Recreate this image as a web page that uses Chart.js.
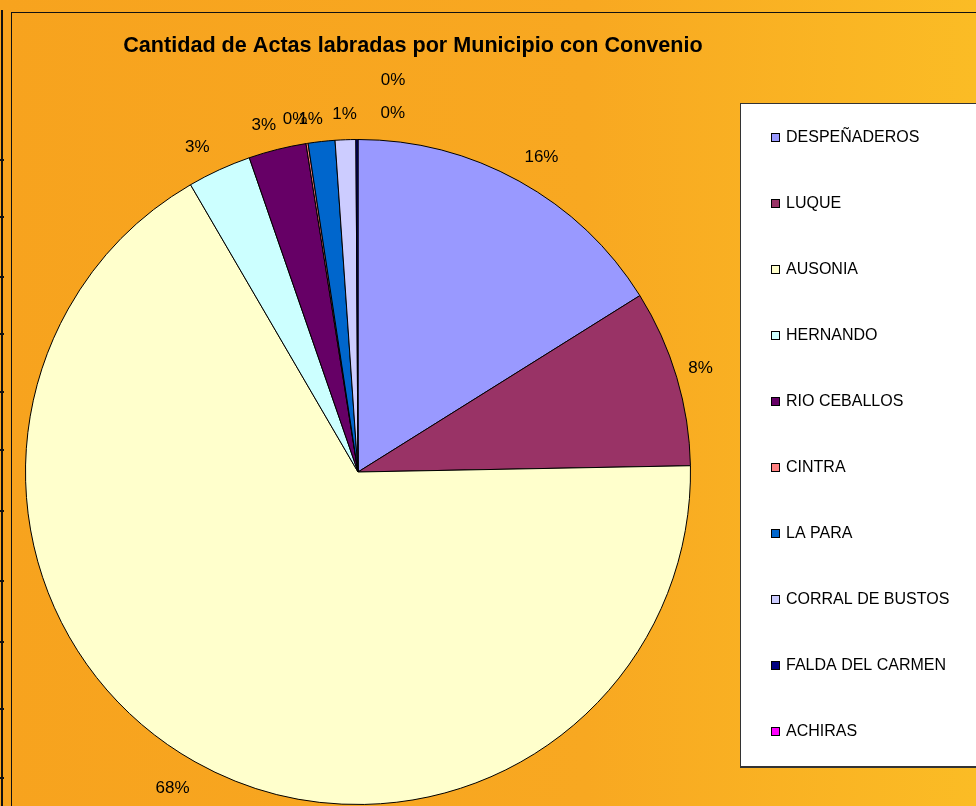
<!DOCTYPE html>
<html>
<head>
<meta charset="utf-8">
<script src="https://cdn.jsdelivr.net/npm/chart.js@4"></script>
<style>
  html, body { margin: 0; padding: 0; background: #F7A31E; overflow: hidden; }
  canvas { display: block; }
</style>
</head>
<body>
<canvas id="pie-chart" width="976" height="806"></canvas>
<script>
const chartTitle = 'Cantidad de Actas labradas por Municipio con Convenio';
const municipios = ['DESPEÑADEROS', 'LUQUE', 'AUSONIA', 'HERNANDO', 'RIO CEBALLOS',
    'CINTRA', 'LA PARA', 'CORRAL DE BUSTOS', 'FALDA DEL CARMEN', 'ACHIRAS'];
const actas = [161, 86, 669, 31, 28, 1, 13, 10, 1, 0];
// percentages as printed on the original chart
const pctLabels = ['16%', '8%', '68%', '3%', '3%', '0%', '1%', '1%', '0%', '0%'];
const sliceColors = ['#9999FF', '#993366', '#FFFFCC', '#CCFFFF', '#660066',
    '#FF8080', '#0066CC', '#CCCCFF', '#000080', '#FF00FF'];

// spreadsheet row lines seen at the left edge
const rowLines = [159, 216, 276, 333, 391, 449, 510, 580, 641, 708, 777];
// Excel shifted some labels so they do not overlap
const labelNudge = {
    0: [7, 4], 1: [-5, 0], 2: [-7, -1], 3: [-10, 4], 4: [-7, 2], 5: [-8, 2], 6: [-8, 3],
    8: [36, -2], 9: [35, -35]
};

const font = '"Liberation Sans", Arial, sans-serif';

const backdrop = {
    id: 'backdrop',
    beforeDraw(chart) {
        const ctx = chart.ctx;
        const w = chart.width, h = chart.height;
        ctx.save();
        const g = ctx.createLinearGradient(0, 0, w, 0);
        g.addColorStop(0, '#F7A31E');
        g.addColorStop(0.6, '#F8A821');
        g.addColorStop(1, '#FBBC25');
        ctx.fillStyle = g;
        ctx.fillRect(0, 0, w, h);

        // left sheet edge
        ctx.fillStyle = '#111';
        ctx.fillRect(1, 10, 2, h - 10);
        rowLines.forEach(y => ctx.fillRect(0, y, 4, 2));

        // chart frame
        ctx.fillRect(11, 12, 1, h - 12);
        ctx.fillRect(11, 12, w - 11, 1);

        ctx.fillStyle = '#000';
        ctx.font = 'bold 21.6px ' + font;
        ctx.textAlign = 'center';
        ctx.textBaseline = 'middle';
        ctx.fillText(chartTitle, 413, 46);
        ctx.restore();
    }
};

const sliceLabels = {
    id: 'sliceLabels',
    afterDatasetsDraw(chart) {
        const ctx = chart.ctx;
        const meta = chart.getDatasetMeta(0);
        ctx.save();
        ctx.fillStyle = '#000';
        ctx.font = '17px ' + font;
        ctx.textAlign = 'center';
        ctx.textBaseline = 'middle';
        meta.data.forEach((arc, i) => {
            const p = arc.getProps(['x', 'y', 'startAngle', 'endAngle', 'outerRadius'], true);
            const mid = (p.startAngle + p.endAngle) / 2;
            const text = pctLabels[i];
            const tw = ctx.measureText(text).width / 2;
            const th = 8.5;
            const cx = Math.cos(mid), sy = Math.sin(mid);
            const d = p.outerRadius + 16 + Math.abs(cx) * tw + Math.abs(sy) * th;
            const n = labelNudge[i] || [0, 0];
            ctx.fillText(text, p.x + cx * d + n[0], p.y + sy * d + n[1]);
        });
        ctx.restore();
    }
};

const boxLegend = {
    id: 'boxLegend',
    afterDraw(chart) {
        const ctx = chart.ctx;
        const colors = chart.data.datasets[0].backgroundColor;
        ctx.save();
        ctx.fillStyle = '#333';
        ctx.fillRect(740, 103, 240, 665);
        ctx.fillStyle = '#fff';
        ctx.fillRect(741, 104, 240, 662);
        ctx.font = '16px ' + font;
        ctx.textBaseline = 'middle';
        chart.data.labels.forEach((label, i) => {
            const y = 137 + i * 66;
            ctx.fillStyle = colors[i];
            ctx.fillRect(771, y - 4, 9, 9);
            ctx.strokeStyle = '#000';
            ctx.lineWidth = 1;
            ctx.strokeRect(771.5, y - 3.5, 8, 8);
            ctx.fillStyle = '#000';
            ctx.fillText(label, 786, y + 1);
        });
        ctx.restore();
    }
};

function init() {
    const ctx = document.getElementById('pie-chart').getContext('2d');
    window.pieChart = new Chart(ctx, {
        type: 'pie',
        data: {
            labels: municipios,
            datasets: [{
                data: actas,
                backgroundColor: sliceColors,
                borderColor: '#000',
                borderWidth: 1
            }]
        },
        options: {
            responsive: false,
            animation: false,
            devicePixelRatio: 1,
            layout: { padding: { left: 25, right: 285, top: 139, bottom: 1 } },
            plugins: {
                legend: { display: false },
                title: { display: false },
                tooltip: { enabled: false }
            }
        },
        plugins: [backdrop, sliceLabels, boxLegend]
    });
}

document.addEventListener('DOMContentLoaded', init);
</script>
</body>
</html>
